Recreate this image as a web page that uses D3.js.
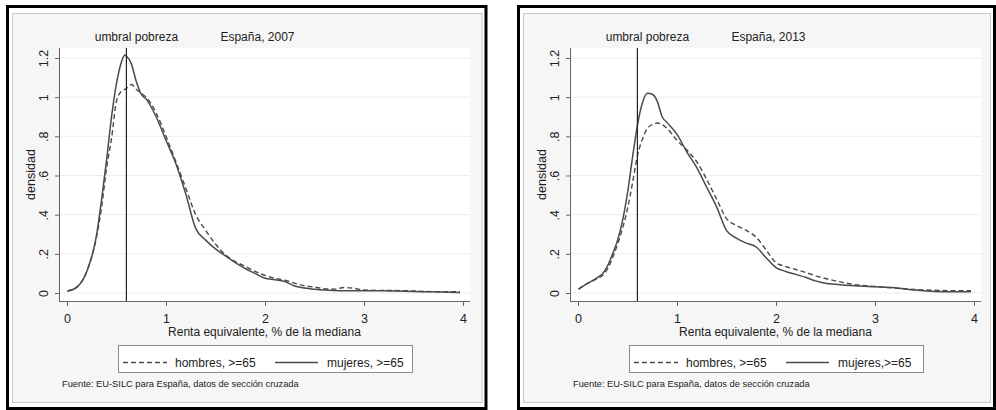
<!DOCTYPE html>
<html>
<head>
<meta charset="utf-8">
<script src="https://cdn.jsdelivr.net/npm/d3@7"></script>
<style>
  body { margin: 0; background: #fff; }
  svg { display: block; }
  text { font-family: "Liberation Sans", Arial, sans-serif; fill: #222; }
</style>
</head>
<body>
<svg id="chart" width="996" height="410"></svg>
<script>
// Kernel density of equivalised income (share of the median), people aged 65+
const renta2007 = [0.005,0.1,0.2,0.3,0.35,0.4,0.45,0.5,0.55,0.585,0.6,0.65,0.7,0.75,0.8,0.9,1.0,1.1,1.2,1.3,1.4,1.5,1.6,1.7,1.8,1.9,2.0,2.1,2.2,2.3,2.4,2.5,2.6,2.7,2.8,2.9,3.0,3.2,3.4,3.6,3.8,3.97];
const hombres2007 = [0.01,0.03,0.11,0.29,0.44,0.64,0.79,0.98,1.03,1.04,1.045,1.065,1.04,1.02,1.0,0.92,0.80,0.67,0.535,0.40,0.32,0.25,0.195,0.16,0.137,0.11,0.09,0.075,0.065,0.05,0.037,0.03,0.022,0.02,0.028,0.024,0.015,0.013,0.012,0.008,0.006,0.007];
const mujeres2007 = [0.01,0.03,0.11,0.30,0.48,0.68,0.90,1.07,1.18,1.215,1.21,1.17,1.08,1.015,0.99,0.90,0.78,0.66,0.505,0.33,0.27,0.225,0.19,0.155,0.125,0.10,0.075,0.068,0.058,0.036,0.025,0.019,0.015,0.013,0.012,0.012,0.012,0.011,0.009,0.007,0.005,0.003];

const renta2013 = [0.005,0.1,0.2,0.25,0.3,0.35,0.4,0.45,0.5,0.55,0.6,0.65,0.7,0.75,0.8,0.85,0.9,1.0,1.1,1.2,1.3,1.4,1.5,1.6,1.7,1.8,1.9,2.0,2.1,2.2,2.3,2.4,2.5,2.6,2.8,3.0,3.2,3.4,3.6,3.8,3.97];
const hombres2013 = [0.02,0.05,0.075,0.09,0.125,0.18,0.25,0.33,0.43,0.56,0.70,0.785,0.84,0.86,0.868,0.86,0.84,0.78,0.73,0.67,0.58,0.48,0.38,0.345,0.32,0.285,0.22,0.155,0.135,0.12,0.105,0.088,0.074,0.062,0.043,0.033,0.025,0.018,0.014,0.012,0.012];
const mujeres2013 = [0.02,0.05,0.08,0.10,0.14,0.20,0.27,0.37,0.51,0.69,0.855,0.97,1.02,1.015,0.98,0.90,0.87,0.81,0.72,0.64,0.54,0.44,0.32,0.28,0.255,0.235,0.18,0.13,0.11,0.095,0.08,0.062,0.05,0.045,0.037,0.032,0.027,0.015,0.008,0.007,0.007];

const xTicks = [0, 1, 2, 3, 4];
const yTicks = [0, 0.2, 0.4, 0.6, 0.8, 1, 1.2];
const yTickLabels = ["0", ".2", ".4", ".6", ".8", "1", "1.2"];
const umbral = 0.6;

const titles = ["España, 2007", "España, 2013"];
const legendHombres = ["hombres, >=65", "hombres, >=65"];
const legendMujeres = ["mujeres, >=65", "mujeres,>=65"];
const xTitle = "Renta equivalente, % de la mediana";
const yTitle = "densidad";
const fuente = "Fuente: EU-SILC para España, datos de sección cruzada";
const umbralLabel = "umbral pobreza";

const svg = d3.select("#chart");
const FONT = '"Liberation Sans", Arial, sans-serif';

function panel(dx, idx, renta, hombres, mujeres) {
  const g = svg.append("g").attr("transform", `translate(${dx},0)`);

  // outer black frame
  const frameW = Math.min(478.5, 994.5 - dx - 7.5);
  g.append("rect").attr("x", 7.5).attr("y", 6.5).attr("width", frameW).attr("height", 402)
    .attr("fill", "#fff").attr("stroke", "#000").attr("stroke-width", 3);
  // graph region
  g.append("rect").attr("x", 12.5).attr("y", 13.5).attr("width", Math.min(470, frameW - 9)).attr("height", 389)
    .attr("fill", "#f6f6f6").attr("stroke", "#c9c9c9");

  const px0 = 59, px1 = 470, py0 = 48, py1 = 301;
  g.append("rect").attr("x", px0).attr("y", py0).attr("width", px1 - px0).attr("height", py1 - py0)
    .attr("fill", "#fff");

  const x = d3.scaleLinear().domain([0, 4]).range([67, 463]);
  const y = d3.scaleLinear().domain([0, 1.2]).range([293, 58]);

  // horizontal grid
  g.append("g").selectAll("line").data(yTicks).join("line")
    .attr("x1", px0).attr("x2", px1)
    .attr("y1", d => y(d)).attr("y2", d => y(d))
    .attr("stroke", "#ededed").attr("stroke-width", 1);

  // axes
  const xAxis = g.append("g").attr("transform", `translate(0,${py1})`)
    .call(d3.axisBottom(x).tickValues(xTicks).tickSize(5).tickFormat(d3.format("d")));
  xAxis.select(".domain").remove();
  xAxis.attr("color", "#666").attr("font-size", 12.5).attr("font-family", FONT);
  xAxis.selectAll("text").attr("y", 21.5).attr("dy", 0).style("fill", "#222");

  const yAxis = g.append("g").attr("transform", `translate(${px0},0)`)
    .call(d3.axisLeft(y).tickValues(yTicks).tickSize(4).tickFormat((d, i) => yTickLabels[i]));
  yAxis.select(".domain").remove();
  yAxis.attr("color", "#666").attr("font-size", 12.5).attr("font-family", FONT);
  yAxis.selectAll("text")
    .attr("transform", "rotate(-90)")
    .attr("x", 0).attr("y", -11).attr("dy", 0)
    .attr("text-anchor", "middle").style("fill", "#222");

  g.append("line").attr("x1", px0).attr("x2", px1).attr("y1", py1 + 0.5).attr("y2", py1 + 0.5)
    .attr("stroke", "#666");
  g.append("line").attr("x1", px0 + 0.5).attr("x2", px0 + 0.5).attr("y1", py0).attr("y2", py1 + 1)
    .attr("stroke", "#666");

  // density curves
  const line = d3.line().x(d => x(d[0])).y(d => y(d[1])).curve(d3.curveMonotoneX);
  g.append("path").datum(renta.map((r, i) => [r, hombres[i]]))
    .attr("d", line).attr("fill", "none").attr("stroke", "#4a4a4a")
    .attr("stroke-width", 1.4).attr("stroke-dasharray", "5,3");
  g.append("path").datum(renta.map((r, i) => [r, mujeres[i]]))
    .attr("d", line).attr("fill", "none").attr("stroke", "#4a4a4a")
    .attr("stroke-width", 1.5);

  // poverty threshold
  g.append("line").attr("x1", x(umbral)).attr("x2", x(umbral)).attr("y1", py0).attr("y2", py1)
    .attr("stroke", "#222").attr("stroke-width", 1.2);

  // texts above the plot
  g.append("text").attr("x", x(umbral) + 10).attr("y", 41).attr("text-anchor", "middle")
    .attr("font-size", 12).text(umbralLabel);
  g.append("text").attr("x", x(1.55)).attr("y", 41).attr("font-size", 12).text(titles[idx]);

  // axis titles
  g.append("text").attr("x", (px0 + px1) / 2).attr("y", 335.5).attr("text-anchor", "middle")
    .attr("font-size", 12).text(xTitle);
  g.append("text").attr("transform", `translate(35,${(py0 + py1) / 2}) rotate(-90)`)
    .attr("text-anchor", "middle").attr("font-size", 12.5).text(yTitle);

  // legend
  const lg = g.append("g");
  lg.append("rect").attr("x", 118.5).attr("y", 345.5).attr("width", 294).attr("height", 27)
    .attr("fill", "#fff").attr("stroke", "#8a8a8a");
  lg.append("line").attr("x1", 123).attr("x2", 167).attr("y1", 362.5).attr("y2", 362.5)
    .attr("stroke", "#4a4a4a").attr("stroke-width", 1.4).attr("stroke-dasharray", "5,3");
  lg.append("text").attr("x", 175).attr("y", 366.5).attr("font-size", 12).text(legendHombres[idx]);
  lg.append("line").attr("x1", 275).attr("x2", 318).attr("y1", 362.5).attr("y2", 362.5)
    .attr("stroke", "#4a4a4a").attr("stroke-width", 1.5);
  lg.append("text").attr("x", 327).attr("y", 366.5).attr("font-size", 12).text(legendMujeres[idx]);

  // source note
  g.append("text").attr("x", 62).attr("y", 387).attr("font-size", 9.3).text(fuente);
}

panel(0, 0, renta2007, hombres2007, mujeres2007);
panel(511, 1, renta2013, hombres2013, mujeres2013);
</script>
</body>
</html>
